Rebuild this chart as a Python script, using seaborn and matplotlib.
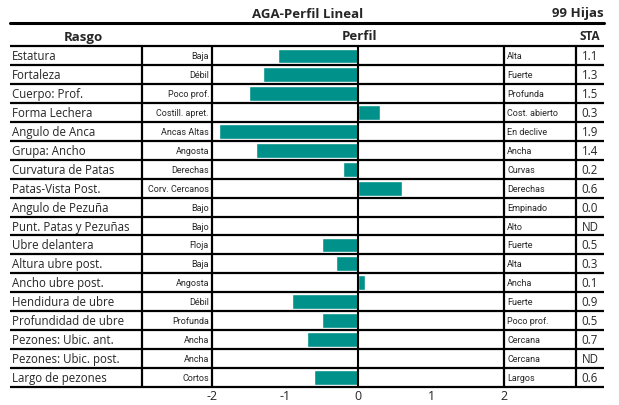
import numpy as np
import pandas as pd
import matplotlib
matplotlib.use("Agg")
import matplotlib.pyplot as plt
import matplotlib.transforms as mtransforms
import seaborn as sns

# datos del perfil lineal
rasgos = ["Estatura", "Fortaleza", "Cuerpo: Prof.", "Forma Lechera", "Angulo de Anca",
          "Grupa: Ancho", "Curvatura de Patas", "Patas-Vista Post.", "Angulo de Pezuña",
          "Punt. Patas y Pezuñas", "Ubre delantera", "Altura ubre post.", "Ancho ubre post.",
          "Hendidura de ubre", "Profundidad de ubre", "Pezones: Ubic. ant.",
          "Pezones: Ubic. post.", "Largo de pezones"]
extremo_bajo = ["Baja", "Débil", "Poco prof.", "Costill. apret.", "Ancas Altas", "Angosta",
                "Derechas", "Corv. Cercanos", "Bajo", "Bajo", "Floja", "Baja", "Angosta",
                "Débil", "Profunda", "Ancha", "Ancha", "Cortos"]
extremo_alto = ["Alta", "Fuerte", "Profunda", "Cost. abierto", "En declive", "Ancha", "Curvas",
                "Derechas", "Empinado", "Alto", "Fuerte", "Alta", "Ancha", "Fuerte",
                "Poco prof.", "Cercana", "Cercana", "Largos"]
perfil = [-1.1, -1.3, -1.5, 0.3, -1.9, -1.4, -0.2, 0.6, 0.0, np.nan, -0.5, -0.3, 0.1,
          -0.9, -0.5, -0.7, np.nan, -0.6]
sta = ["1.1", "1.3", "1.5", "0.3", "1.9", "1.4", "0.2", "0.6", "0.0", "ND", "0.5", "0.3",
       "0.1", "0.9", "0.5", "0.7", "ND", "0.6"]
ticks = [-2, -1, 0, 1, 2]

df = pd.DataFrame({"rasgo": rasgos, "perfil": perfil})

W, H = 619, 406
fig = plt.figure(figsize=(W / 100, H / 100), dpi=100)
sns.set_style("white")
plt.rcParams["font.family"] = ["Open Sans", "DejaVu Sans"]

top, bottom = 47.5, 387.7
x0, x1 = 212, 504
ax = fig.add_axes([x0 / W, 1 - bottom / H, (x1 - x0) / W, (bottom - top) / H])
sns.barplot(data=df, x="perfil", y="rasgo", order=rasgos, orient="h",
            color="#00918A", errorbar=None, width=0.78, saturation=1, ax=ax)
ax.set_xlim(-2, 2)
ax.set_ylim(len(rasgos) - 0.5, -0.5)
ax.set_xticks(ticks)
ax.set_xticklabels([str(t) for t in ticks], fontsize=9)
ax.tick_params(axis="x", length=0, pad=1.5)
ax.set_yticks([])
ax.set_xlabel("")
ax.set_ylabel("")
for s in ax.spines.values():
    s.set_visible(False)
ax.axvline(0, color="black", lw=1.5)

# tabla: x en pixeles de figura, y en filas de datos
tr = mtransforms.blended_transform_factory(
    mtransforms.Affine2D().scale(1 / W, 1) + fig.transFigure, ax.transData)
lw = 1.6
for i in range(len(rasgos) + 1):
    ax.plot([10, 604], [i - 0.5, i - 0.5], color="black", lw=lw, transform=tr,
            clip_on=False, solid_capstyle="butt")
for xv in [142, 212, 504, 576]:
    ax.plot([xv, xv], [-0.5, len(rasgos) - 0.5], color="black", lw=lw, transform=tr,
            clip_on=False, solid_capstyle="butt")

narrow = ["Roboto", "DejaVu Sans"]
for i, r in enumerate(rasgos):
    ax.text(12, i, r, transform=tr, fontsize=8.3, va="center", ha="left")
    ax.text(209, i, extremo_bajo[i], transform=tr, fontsize=6.5, va="center", ha="right",
            family=narrow)
    ax.text(507, i, extremo_alto[i], transform=tr, fontsize=6.5, va="center", ha="left",
            family=narrow)
    ax.text(590, i, sta[i], transform=tr, fontsize=8.3, va="center", ha="center")

# titulos y encabezados
def px(x, y):
    return x / W, 1 - y / H

fig.text(*px(308, 14), "AGA-Perfil Lineal", fontsize=9.5, weight="bold", ha="center", va="center")
fig.text(*px(604, 13), "99 Hijas", fontsize=9.5, weight="bold", ha="right", va="center")
fig.text(*px(83, 37), "Rasgo", fontsize=9.5, weight="bold", ha="center", va="center")
fig.text(*px(359, 37), "Perfil", fontsize=9.5, weight="bold", ha="center", va="center")
fig.text(*px(590, 37), "STA", fontsize=8.5, weight="bold", ha="center", va="center")
fig.add_artist(plt.Line2D([10 / W, 604 / W], [1 - 24 / H, 1 - 24 / H], color="black", lw=2.2))

fig.savefig("out.png", dpi=100)
